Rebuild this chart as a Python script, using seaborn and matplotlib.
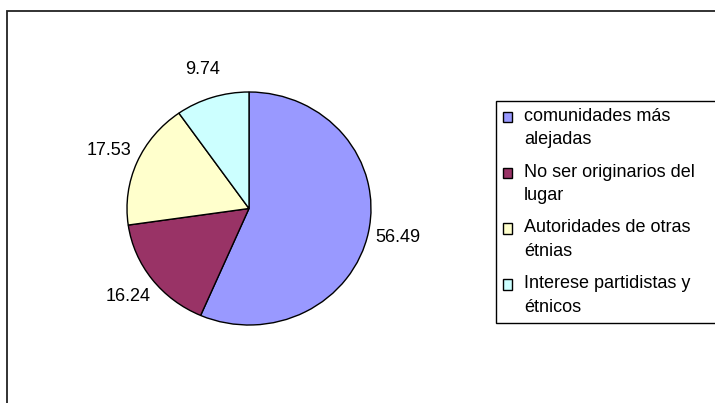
import matplotlib
matplotlib.use("Agg")
import matplotlib.pyplot as plt
from matplotlib.patches import Rectangle
from matplotlib.legend_handler import HandlerPatch
import seaborn as sns

# data
categories = [
    "comunidades más\nalejadas",
    "No ser originarios del\nlugar",
    "Autoridades de otras\nétnias",
    "Interese partidistas y\nétnicos",
]
values = [56.49, 16.24, 17.53, 9.74]
value_labels = ["56.49", "16.24", "17.53", "9.74"]
colors = ["#9999FF", "#993366", "#FFFFCC", "#CCFFFF"]

sns.set_theme(style="white")
plt.rcParams["font.family"] = ["Liberation Sans", "DejaVu Sans"]

W, H = 715, 403
fig = plt.figure(figsize=(W / 100, H / 100), dpi=100)
fig.patch.set_facecolor("white")

# outer chart-area border (runs off the right and bottom edges)
fig.patches.append(Rectangle((6.5 / W, -0.1), 1.2, 1.1 - 10.5 / H,
                             transform=fig.transFigure, fill=False,
                             edgecolor="#222222", lw=1.3))

# pie plot area (slightly elliptical, as in the reference)
ax = fig.add_axes([127 / W, (H - 325) / H, 244 / W, 233 / H])
palette = sns.color_palette(colors)
wedges, texts = ax.pie(values, labels=value_labels, colors=palette,
                       startangle=90, counterclock=False,
                       labeldistance=1.25,
                       wedgeprops=dict(edgecolor="black", linewidth=1.0),
                       textprops=dict(fontsize=13, color="black"))
for t in texts:
    t.set_ha("center")
    t.set_va("center")
ax.set_aspect("auto")
ax.set_xlim(-1, 1)
ax.set_ylim(-1, 1)
ax.axis("off")


class TopLineHandler(HandlerPatch):
    """put the square next to the first line of a two-line label"""
    def create_artists(self, legend, orig_handle, xdescent, ydescent,
                       width, height, fontsize, trans):
        shift = 0.62 * fontsize
        p = Rectangle((-xdescent, -ydescent + shift), width, height)
        self.update_prop(p, orig_handle, legend)
        p.set_transform(trans)
        return [p]


handles = [Rectangle((0, 0), 1, 1, facecolor=c, edgecolor="black", lw=1.0)
           for c in palette]
leg = fig.legend(handles, categories, loc="upper left",
                 bbox_to_anchor=(496 / W, 1 - 100.5 / H, 0.4, 0.0),
                 mode="expand", borderaxespad=0, borderpad=0.4,
                 fontsize=13, handlelength=0.5, handleheight=0.5,
                 handletextpad=0.65, labelspacing=0.85,
                 fancybox=False, framealpha=1, edgecolor="black",
                 labelcolor="black",
                 handler_map={Rectangle: TopLineHandler()})
leg.get_frame().set_linewidth(1.0)
for t in leg.get_texts():
    t.set_linespacing(1.5)

fig.savefig("out.png", dpi=100)
